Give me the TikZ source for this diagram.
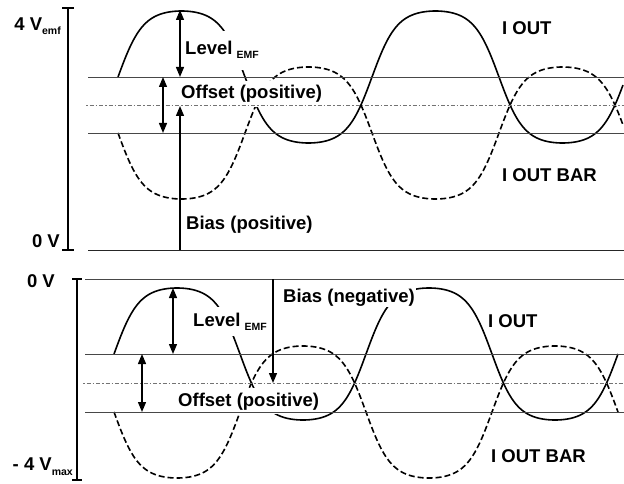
\documentclass[tikz,border=0pt]{standalone}
\usepackage{fontspec}
\setmainfont{Liberation Sans}
\usetikzlibrary{arrows.meta}
\newcommand{\lowsub}[2]{\raisebox{-#1}{\fontsize{10.5}{12}\selectfont #2}}
\tikzset{
  wave/.style={line width=1.6pt, black, line join=round},
  wavebar/.style={wave, dash pattern=on 6pt off 3pt},
  hline/.style={line width=0.9pt, black!72},
  midline/.style={line width=0.8pt, black!55, dash pattern=on 1.5pt off 2pt on 4pt off 2pt},
  axis/.style={line width=1.4pt, black},
  dimarrow/.style={line width=1.3pt, {Triangle[length=10pt,width=8pt]}-{Triangle[length=10pt,width=8pt]}},
  biasarrow/.style={line width=1.3pt, -{Triangle[length=10pt,width=8pt]}},
  lbl/.style={font=\fontsize{18.5}{20}\selectfont\bfseries, anchor=base west, inner xsep=1pt, inner ysep=1.5pt, fill=white},
  axlbl/.style={font=\fontsize{18.5}{20}\selectfont\bfseries, anchor=base east, inner sep=0pt},
  declare function={gw(\t)=tanh(1.5*sin(\t))/0.9051;}
}
\begin{document}
\begin{tikzpicture}[x=1pt,y=-1pt]
\useasboundingbox (0,0) rectangle (624,484);

% ---------- upper panel ----------
\draw[wave] plot[domain=118:623, samples=300] (\x, {77-66*gw((\x-118)/254*360)});
\draw[wavebar] plot[domain=118:623, samples=300] (\x, {133+66*gw((\x-118)/254*360)});

\node[lbl, inner ysep=11pt] (lvlA) at (184,55) {Level\hspace{4pt}\lowsub{4pt}{EMF}};
\node[lbl, inner ysep=4.5pt] (offA) at (180,99) {Offset (positive)};
\node[lbl] (biasA) at (185,229) {Bias (positive)};
\node[lbl] (ioutA) at (501,35) {I OUT};
\node[lbl] (ibarA) at (501,182) {I OUT BAR};
\node[axlbl] (vtopA) at (61,31) {4 V\lowsub{4pt}{emf}};
\node[axlbl] (vbotA) at (60,247) {0 V};

\coordinate (hAu) at (88,77);   \coordinate (hAuE) at (624,77);
\coordinate (hAl) at (88,133);  \coordinate (hAlE) at (624,133);
\coordinate (hAm) at (86,105);  \coordinate (hAmE) at (624,105);
\coordinate (hAz) at (88,250);  \coordinate (hAzE) at (624,250);
\draw[hline] (hAu) -- (hAuE);
\draw[hline] (hAl) -- (hAlE);
\draw[midline] (hAm) -- (hAmE);
\draw[hline, black!85] (hAz) -- (hAzE);

\coordinate (axAt) at (68,8);  \coordinate (axAb) at (68,250);
\draw[axis] (axAt) -- (axAb);
\draw[axis] ([xshift=-6pt]axAt) -- ([xshift=6pt]axAt);
\draw[axis] ([xshift=-6pt]axAb) -- ([xshift=6pt]axAb);

\coordinate (pkA) at (180,10);   \coordinate (pkAb) at (180,77);
\coordinate (ofAt) at (163,77);  \coordinate (ofAb) at (163,133);
\coordinate (bsA0) at (180,250); \coordinate (bsA1) at (180,106);
\draw[dimarrow] (pkA) -- (pkAb);
\draw[dimarrow] (ofAt) -- (ofAb);
\draw[biasarrow] (bsA0) -- (bsA1);

% ---------- lower panel ----------
\draw[wave] plot[domain=114:618, samples=300] (\x, {354-66*gw((\x-114)/252*360)});
\draw[wavebar] plot[domain=114:618, samples=300] (\x, {412+66*gw((\x-114)/252*360)});

\node[lbl, inner ysep=5.5pt] (lvlB) at (192,326) {Level\hspace{4pt}\lowsub{4pt}{EMF}};
\node[lbl, inner ysep=4.5pt] (offB) at (177,406) {Offset (positive)};
\node[lbl, inner ysep=1.5pt] (biasB) at (282,302) {Bias (negative)};
\node[lbl] (ioutB) at (487,327) {I OUT};
\node[lbl] (ibarB) at (490,462) {I OUT BAR};
\node[axlbl] (vtopB) at (55,287) {0 V};
\node[axlbl] (vbotB) at (73,470) {- 4 V\lowsub{5pt}{max}};

\coordinate (hBz) at (85,279);  \coordinate (hBzE) at (624,279);
\coordinate (hBu) at (85,354);  \coordinate (hBuE) at (624,354);
\coordinate (hBl) at (85,412);  \coordinate (hBlE) at (624,412);
\coordinate (hBm) at (83,383);  \coordinate (hBmE) at (624,383);
\draw[hline] (hBz) -- (hBzE);
\draw[hline] (hBu) -- (hBuE);
\draw[hline] (hBl) -- (hBlE);
\draw[midline] (hBm) -- (hBmE);

\coordinate (axBt) at (77,279);  \coordinate (axBb) at (77,480);
\draw[axis] (axBt) -- (axBb);
\draw[axis] ([xshift=-5pt]axBt) -- ([xshift=5pt]axBt);
\draw[axis] ([xshift=-5pt]axBb) -- ([xshift=5pt]axBb);

\coordinate (pkB) at (173,288);  \coordinate (pkBb) at (173,354);
\coordinate (ofBt) at (142,354); \coordinate (ofBb) at (142,412);
\coordinate (bsB0) at (273,279); \coordinate (bsB1) at (273,383);
\draw[dimarrow] (pkB) -- (pkBb);
\draw[dimarrow] (ofBt) -- (ofBb);
\draw[biasarrow] (bsB0) -- (bsB1);
\end{tikzpicture}
\end{document}
